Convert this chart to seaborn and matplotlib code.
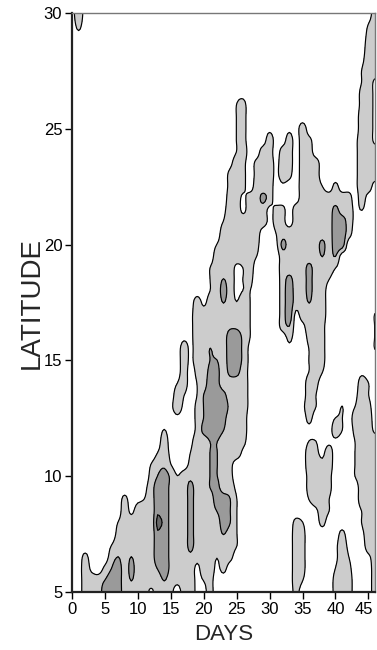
import numpy as np
import matplotlib
matplotlib.use("Agg")
import matplotlib.pyplot as plt
from matplotlib.transforms import ScaledTranslation
import seaborn as sns

# Grid columns: days 0..46 ; rows: latitude 30 -> 5 in 0.5 deg steps
days = np.arange(0, 47)
latitudes = np.arange(30.0, 4.75, -0.5)

# Field intensity per grid cell (0-1 white, 2-5 light, 6-8 medium, 9 darkest)
field_rows = [
    "0500000000 0000000000 0000000000 0000000000 0000004",  # 30.0
    "0300000000 0000000000 0000000000 0000000000 0000024",  # 29.5
    "0100000000 0000000000 0000000000 0000000000 0000034",  # 29.0
    "0000000000 0000000000 0000000000 0000000000 0000044",  # 28.5
    "0000000000 0000000000 0000000000 0000000000 0000144",  # 28.0
    "0000000000 0000000000 0000000000 0000000000 0000244",  # 27.5
    "0000000000 0000000000 0000000000 0000000000 0000241",  # 27.0
    "0000000000 0000000000 0000011000 0000000000 0000341",  # 26.5
    "0000000000 0000000000 0000023000 0000000000 0000341",  # 26.0
    "0000000000 0000000000 0000023000 0000000000 0000441",  # 25.5
    "0000000000 0000000000 0000023000 1001040000 0000441",  # 25.0
    "0000000000 0000000000 0000023000 4004043000 0001441",  # 24.5
    "0000000000 0000000000 0000024004 4044044000 0001444",  # 24.0
    "0000000000 0000000000 0000143034 4144044400 0001444",  # 23.5
    "0000000000 0000000000 0000343034 4143044400 0001444",  # 23.0
    "0000000000 0000000000 0000343044 4010044420 3001440",  # 22.5
    "0000000000 0000000000 0000441447 4000044444 4440400",  # 22.0
    "0000000000 0000000000 0001441444 1330444444 7441200",  # 21.5
    "0000000000 0000000000 0002444444 1330444444 8841000",  # 21.0
    "0000000000 0000000000 0004444440 0244444444 8840000",  # 20.5
    "0000000000 0000000000 0024444430 0174444474 8800000",  # 20.0
    "0000000000 0000000000 0044444420 0044444464 6000000",  # 19.5
    "0000000000 0000000000 0244412400 0044447444 2000000",  # 19.0
    "0000000000 0000000000 0246412300 0047447442 0000000",  # 18.5
    "0000000000 0000000000 0247412200 0048447440 0000000",  # 18.0
    "0000000000 0000000004 1446424200 0048446440 0000000",  # 17.5
    "0000000000 0000000014 4444444200 0048144440 0000002",  # 17.0
    "0000000000 0000000014 4444554200 0046014430 0000002",  # 16.5
    "0000000000 0000000114 4444885200 0003003430 0000002",  # 16.0
    "0000000000 0000000414 4644885100 0001002430 0000002",  # 15.5
    "0000000000 0000000414 4664885100 0000002430 0000000",  # 15.0
    "0000000000 0000000403 4774774100 0000002420 0000100",  # 14.5
    "0000000000 0000002402 4874444100 0000004300 0000420",  # 14.0
    "0000000000 0000004202 6887444100 0000004200 0001420",  # 13.5
    "0000000000 0000014103 6888544100 0000014200 0202430",  # 13.0
    "0000000000 0000001003 6887444000 0000003000 2204440",  # 12.5
    "0000000000 0000200003 7886444000 0000001000 4203441",  # 12.0
    "0000000000 0000400014 4664443000 0000002201 1002444",  # 11.5
    "0000000000 0002410024 4664441000 0000004314 0002444",  # 11.0
    "0000000000 0024520034 4664300000 0000004434 0002444",  # 10.5
    "0000000000 0036852454 4664300000 0000003443 0002444",  # 10.0
    "0000000000 0148854474 4674410000 0000003443 0000444",  # 9.5
    "0000000030 1248854474 4488620000 0000002442 0000444",  # 9.0
    "0000000041 4448854474 4468620000 0000000142 0000244",  # 8.5
    "0000000244 4449854474 4448620000 0000320030 0000244",  # 8.0
    "0000000344 4448854474 4446420000 0000430000 0300144",  # 7.5
    "0000002444 4448854474 4444420000 0000430000 1410044",  # 7.0
    "0030004646 4448854453 4424300000 0000430000 1420014",  # 6.5
    "0041036847 4446854441 4413000000 0000430000 2430004",  # 6.0
    "0044468846 4444643441 2300000000 0000420000 3440004",  # 5.5
    "0044488844 4414430441 1300000000 0000300000 3440004",  # 5.0
]

contour_levels = [-1.0, 1.9, 5.9, 8.3, 10.0]
fill_colors = ["#ffffff", "#cccccc", "#9a9a9a", "#686868"]
x_ticks = [0, 5, 10, 15, 20, 25, 30, 35, 40, 45]
y_ticks = [5, 10, 15, 20, 25, 30]


def resample_matrix(n, factor, cubic=True):
    """Resampling weights on a finer grid (Catmull-Rom or linear)."""
    m = (n - 1) * factor + 1
    w_mat = np.zeros((m, n))
    for k in range(m):
        t = k / factor
        i = min(int(np.floor(t)), n - 2)
        s = t - i
        if cubic:
            w = [(-s**3 + 2 * s**2 - s) / 2, (3 * s**3 - 5 * s**2 + 2) / 2,
                 (-3 * s**3 + 4 * s**2 + s) / 2, (s**3 - s**2) / 2]
            idx = range(i - 1, i + 3)
        else:
            w = [1 - s, s]
            idx = range(i, i + 2)
        for j, wj in zip(idx, w):
            w_mat[k, min(max(j, 0), n - 1)] += wj
    return w_mat


sns.set_style("ticks")
plt.rcParams["font.family"] = ["Liberation Sans", "DejaVu Sans"]

field = np.array([[float(c) for c in r.replace(" ", "")] for r in field_rows])
lat_up = latitudes[::-1]
field_up = field[::-1, :]

factor = 4
smooth = resample_matrix(len(lat_up), factor) @ field_up @ resample_matrix(len(days), factor).T
linear = (resample_matrix(len(lat_up), factor, cubic=False) @ field_up
          @ resample_matrix(len(days), factor, cubic=False).T)
dark_level = contour_levels[3]
fine_field = np.where(linear > dark_level, linear, np.minimum(smooth, dark_level - 0.1))
fine_days = np.linspace(days[0], days[-1], fine_field.shape[1])
fine_lat = np.linspace(lat_up[0], lat_up[-1], fine_field.shape[0])

fig = plt.figure(figsize=(3.77, 6.5), dpi=100)
ax = fig.add_axes([0.191, 0.0892, 0.8037, 0.8908])
ax.contourf(fine_days, fine_lat, fine_field, levels=contour_levels, colors=fill_colors)
ax.contour(fine_days, fine_lat, fine_field, levels=contour_levels[1:-1],
           colors="black", linewidths=0.85)

ax.set_xlim(0, 46)
ax.set_ylim(5, 30)
ax.set_xticks(x_ticks)
ax.set_yticks(y_ticks)
ax.tick_params(axis="both", direction="out", length=5, width=1, labelsize=12,
               colors="black", pad=2)
ax.set_xlabel("DAYS", fontsize=16, labelpad=5)
ax.set_ylabel("LATITUDE", fontsize=20, labelpad=-1)

# keep the last day label inside the figure, as in the reference
last_label = ax.get_xticklabels()[-1]
last_label.set_transform(last_label.get_transform() +
                         ScaledTranslation(-3 / 72, 0, fig.dpi_scale_trans))

for side in ["left", "bottom"]:
    ax.spines[side].set_color("#222222")
    ax.spines[side].set_linewidth(1.6)
for side in ["top", "right"]:
    ax.spines[side].set_color("#777777")
    ax.spines[side].set_linewidth(1.0)
    ax.spines[side].set_visible(True)

fig.savefig("out.png", dpi=100)
